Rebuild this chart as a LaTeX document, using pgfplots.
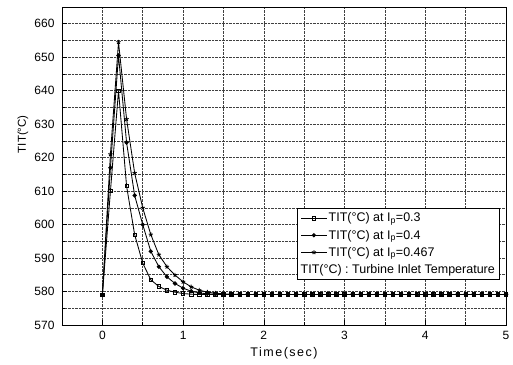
\documentclass[border=0pt]{standalone}
\usepackage{fontspec}
\setmainfont{Liberation Sans}
\usepackage{pgfplots}
\usepackage{pgfplotstable}
\pgfplotsset{compat=1.18}
\pgfplotstableread{
t s1 s2 s3
0.0 579 579 579
0.1 610 617 621
0.2 640 650.5 654.5
0.3 611.5 624.5 631.5
0.4 597 608.7 615.4
0.5 588.5 600 605
0.6 583.5 592 597
0.7 581.5 587.4 591
0.8 580.4 584.4 587.4
0.9 579.8 582.4 584.9
1.0 579.4 581 582.9
1.1 579.2 580.1 581.4
1.2 579.1 579.6 580.4
1.3 579.1 579.3 579.8
1.4 579.1 579.2 579.5
1.5 579.1 579.1 579.3
1.6 579.1 579.1 579.2
1.7 579.1 579.1 579.1
1.8 579.1 579.1 579.1
1.9 579.1 579.1 579.1
2.0 579.1 579.1 579.1
2.1 579.1 579.1 579.1
2.2 579.1 579.1 579.1
2.3 579.1 579.1 579.1
2.4 579.1 579.1 579.1
2.5 579.1 579.1 579.1
2.6 579.1 579.1 579.1
2.7 579.1 579.1 579.1
2.8 579.1 579.1 579.1
2.9 579.1 579.1 579.1
3.0 579.1 579.1 579.1
3.1 579.1 579.1 579.1
3.2 579.1 579.1 579.1
3.3 579.1 579.1 579.1
3.4 579.1 579.1 579.1
3.5 579.1 579.1 579.1
3.6 579.1 579.1 579.1
3.7 579.1 579.1 579.1
3.8 579.1 579.1 579.1
3.9 579.1 579.1 579.1
4.0 579.1 579.1 579.1
4.1 579.1 579.1 579.1
4.2 579.1 579.1 579.1
4.3 579.1 579.1 579.1
4.4 579.1 579.1 579.1
4.5 579.1 579.1 579.1
4.6 579.1 579.1 579.1
4.7 579.1 579.1 579.1
4.8 579.1 579.1 579.1
4.9 579.1 579.1 579.1
5.0 579.1 579.1 579.1
}\tit
\begin{document}
\begin{tikzpicture}
\begin{axis}[
  name=ax,
  scale only axis,
  width=444pt, height=318pt,
  xmin=-0.5, xmax=5, ymin=570, ymax=665,
  xtick={0,1,2,3,4,5},
  ytick={570,580,...,660},
  minor x tick num=1,
  minor y tick num=1,
  grid=both,
  major grid style={black!75, densely dotted, line width=0.6pt},
  minor grid style={black!75, densely dotted, line width=0.6pt},
  tick align=inside,
  xtick pos=bottom, ytick pos=left,
  major tick length=5pt, minor tick length=3pt,
  tick style={black, line width=0.6pt},
  axis line style={black, line width=0.8pt},
  /pgf/number format/assume math mode=true,
  tick label style={font=\fontsize{12}{14}\selectfont},
  yticklabel style={xshift=-4pt},
  xticklabel style={yshift=-3pt},
  xlabel={\addfontfeatures{LetterSpace=12}Time(sec)},
  ylabel={TIT(°C)},
  xlabel style={font=\fontsize{12.5}{14}\selectfont, at={(axis description cs:0.5,-0.088)}, anchor=center},
  ylabel style={font=\fontsize{11.5}{13}\selectfont, at={(axis description cs:-0.088,0.6)}, anchor=center},
  legend cell align=left,
  legend style={at={(0.986,0.368)}, anchor=north east, draw=black, line width=0.9pt,
    font=\fontsize{12.5}{14}\selectfont, row sep=3.5pt, inner sep=3pt,
    nodes={inner sep=1.5pt}},
  legend image code/.code={\draw[mark repeat=2,mark phase=2,line width=0.8pt]
    plot coordinates {(0cm,0cm) (0.45cm,0cm) (0.9cm,0cm)};},
]
\addplot[black, line width=0.85pt, mark=square, mark size=1.7pt, mark options={solid, line width=0.7pt}] table[x=t,y=s1]{\tit};
\addlegendentry{TIT(°C) at I\textsubscript{p}=0.3}
\addplot[black, line width=0.85pt, mark=*, mark size=1.7pt, mark options={solid}] table[x=t,y=s2]{\tit};
\addlegendentry{TIT(°C) at I\textsubscript{p}=0.4}
\addplot[black, line width=0.85pt, mark=star, mark size=2.2pt, mark options={solid, line width=0.9pt}] table[x=t,y=s3]{\tit};
\addlegendentry{TIT(°C) at I\textsubscript{p}=0.467}
\addlegendimage{empty legend}
\addlegendentry{\hspace{-28pt}TIT(°C) : Turbine Inlet Temperature}
\end{axis}
\pgfresetboundingbox
\path ([shift={(-62pt,-40pt)}]ax.south west) rectangle ([shift={(7pt,7pt)}]ax.north east);
\end{tikzpicture}
\end{document}
